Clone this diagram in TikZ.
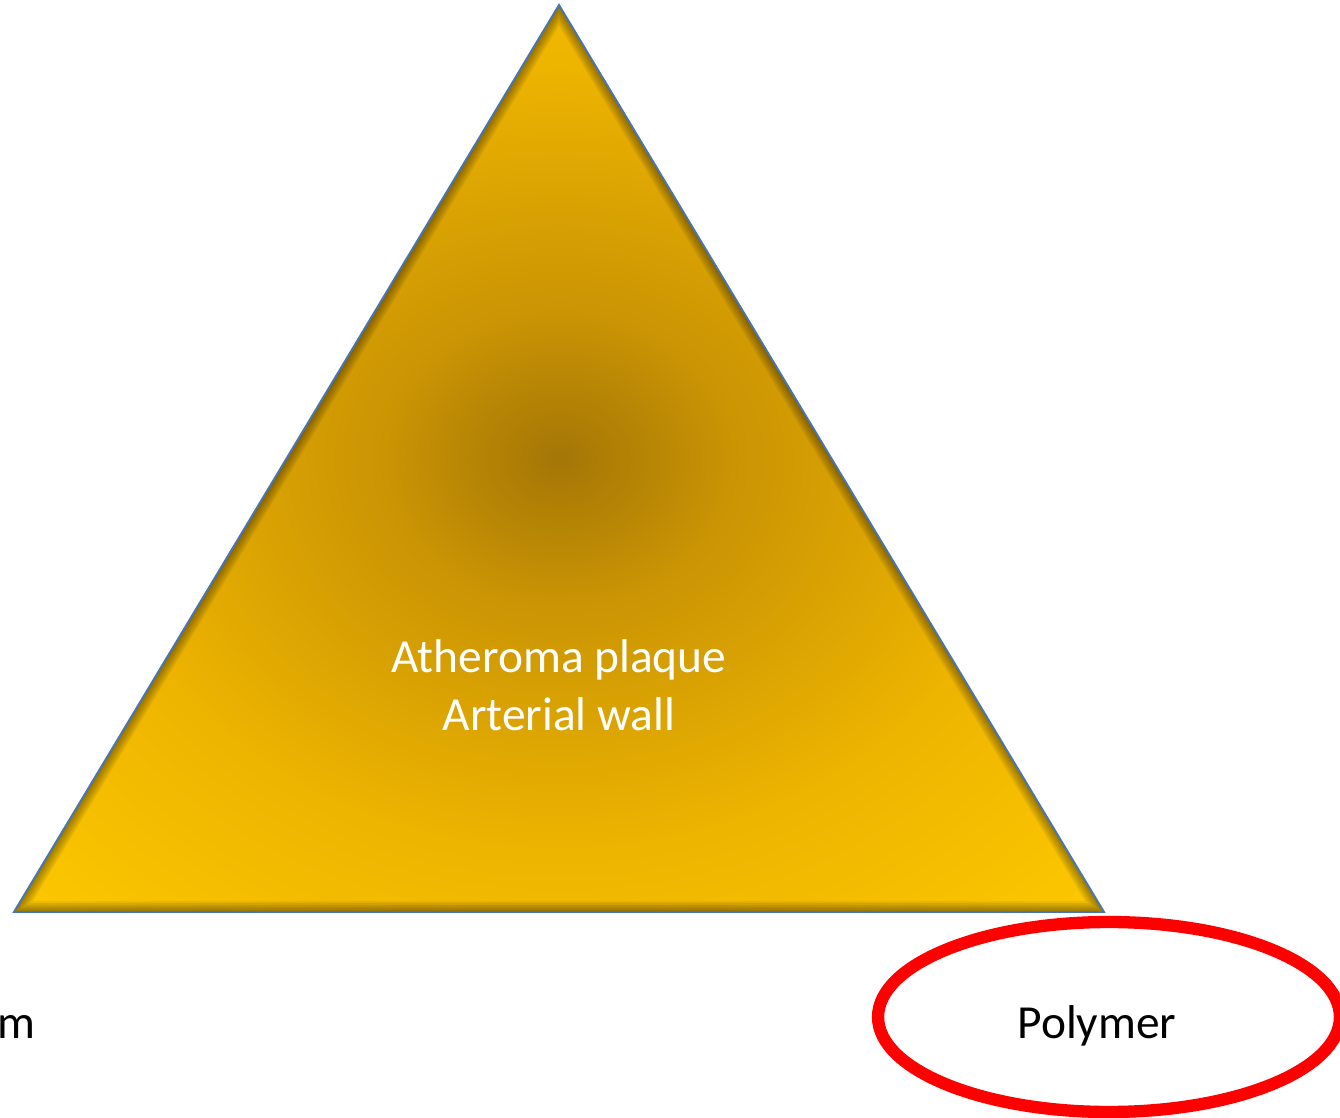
\documentclass[tikz,border=0pt]{standalone}
\usepackage{fontspec}
\setmainfont{Carlito}
\usetikzlibrary{shapes.geometric}

\definecolor{plaqueout}{RGB}{251,198,0}
\definecolor{plaqueedge}{RGB}{238,181,0}
\definecolor{plaquemid}{RGB}{202,148,4}
\definecolor{plaquein}{RGB}{164,118,6}
\definecolor{edgeblue}{RGB}{72,118,176}
\pgfdeclareradialshading{plaque}{\pgfpoint{0bp}{0bp}}{color(0bp)=(plaquein); color(8bp)=(plaquemid); color(22bp)=(plaqueedge); color(34bp)=(plaqueout); color(50bp)=(plaqueout)}

\tikzset{
  bigtext/.style={font=\fontsize{27}{32}\selectfont, inner sep=0pt},
  ring/.style={ellipse, draw=red, line width=7pt, inner sep=0pt,
    minimum width=9.24cm, minimum height=3.8cm}
}

\begin{document}
\begin{tikzpicture}[x=0.02cm,y=-0.02cm]
  \useasboundingbox (0,0) rectangle (1340,1118);
  \clip (0,0) rectangle (1340,1118);
  \coordinate (apex) at (559,5);
  \coordinate (left) at (14,912);
  \coordinate (right) at (1104,912);
  % triangle
  \shade[shading=plaque] (apex) -- (left) -- (right) -- cycle;
  \begin{scope}
    \clip (apex) -- (left) -- (right) -- cycle;
    \foreach \w in {2,4,...,12}
      \draw[black, opacity=0.07, line width=\w pt] (apex) -- (left) -- (right) -- cycle;
  \end{scope}
  \draw[edgeblue, line width=1.1pt, line join=miter] (apex) -- (left) -- (right) -- cycle;
  \node[bigtext, white, anchor=base] (plaque) at (559,673) {Atheroma plaque};
  \node[bigtext, white, anchor=base] (wall) at (559,730) {Arterial wall};
  % labels
  \node[ring] (poly) at (1109,1017) {};
  \node[bigtext, anchor=base] (polytext) at (1097,1038) {Polymer};
  \node[bigtext, anchor=base east] (lumen) at (36,1038) {m};
\end{tikzpicture}
\end{document}
